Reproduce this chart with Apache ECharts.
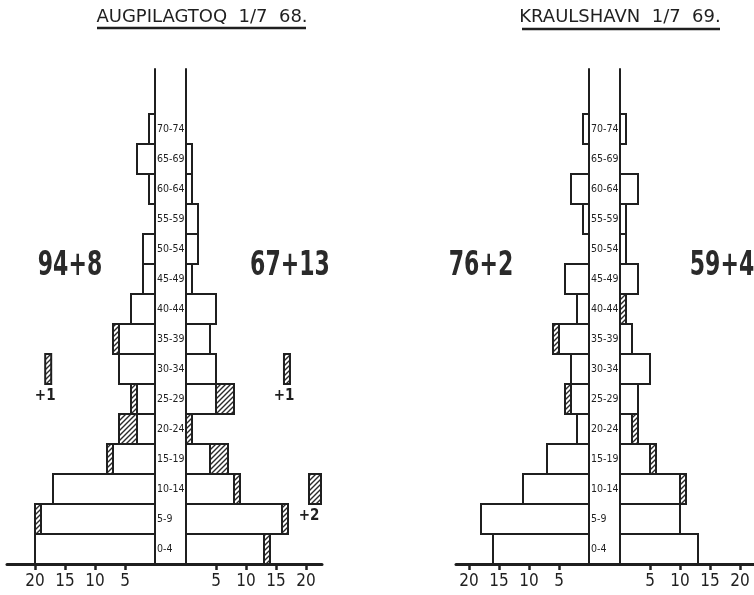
<!DOCTYPE html>
<html><head><meta charset="utf-8">
<script src="https://cdn.jsdelivr.net/npm/echarts@6/dist/echarts.min.js"></script>
<style>html,body{margin:0;padding:0;background:#fff}#c{width:754px;height:595px}</style>
</head><body><div id="c"></div><script>
// ---------- DATA ----------
const ages = ['0-4','5-9','10-14','15-19','20-24','25-29','30-34','35-39','40-44','45-49','50-54','55-59','60-64','65-69','70-74'];
const titleA = 'AUGPILAGTOQ  1/7  68.';
const titleB = 'KRAULSHAVN  1/7  69.';
// Augpilagtoq 1/7 68
const augLeftWhite  = [20,19,17,7,3,3,6,6,4,2,2,0,1,3,1];
const augLeftHatch  = [0,1,0,1,3,1,0,1,0,0,0,0,0,0,0];
const augRightWhite = [13,16,8,4,0,5,5,4,5,1,2,2,1,1,0];
const augRightHatch = [1,1,1,3,1,3,0,0,0,0,0,0,0,0,0];
const augLeftExtraAge = ['30-34'];
const augLeftExtraCount = [1];
const augRightExtraAge = ['30-34','10-14'];
const augRightExtraCount = [1,2];
// Kraulshavn 1/7 69
const kraLeftWhite  = [16,18,11,7,2,3,3,5,2,4,0,1,3,0,1];
const kraLeftHatch  = [0,0,0,0,0,1,0,1,0,0,0,0,0,0,0];
const kraRightWhite = [13,10,10,5,2,3,5,2,0,3,1,1,3,0,1];
const kraRightHatch = [0,0,1,1,1,0,0,0,1,0,0,0,0,0,0];
const xTicks = [5,10,15,20];

// ---------- LAYOUT ----------
const ink = '#1f1f1f';
const SCALE = 6;            // px per person
const TOP = 69, BOTTOM = 564;
const COL = 31;             // width of the age column
const YMAX = 16.5;          // bands incl. headroom above the oldest group
const augLeftExtraAt = [17.3];
const augRightExtraAt = [16.33, 20.5];
const narrow = "'DejaVu Sans Condensed','Liberation Sans Narrow',sans-serif";

function hatchCanvas() {
  const s = 5, c = document.createElement('canvas'); c.width = s; c.height = s;
  const g = c.getContext('2d');
  g.fillStyle = '#fff'; g.fillRect(0, 0, s, s);
  g.strokeStyle = '#2a2a2a'; g.lineWidth = 1.4; g.beginPath();
  g.moveTo(-1, s + 1); g.lineTo(s + 1, -1);
  g.moveTo(-1, 1); g.lineTo(1, -1);
  g.moveTo(s - 1, s + 1); g.lineTo(s + 1, s - 1);
  g.stroke();
  return c;
}
const hatch = { image: hatchCanvas(), repeat: 'repeat' };
const sum = a => a.reduce((p, v) => p + v, 0);

function stackItems(white, hat) {
  const out = [];
  white.forEach((w, i) => { out.push([i, 0, w, 0]); out.push([i, w, w + hat[i], 1]); });
  return out;
}
function extraItems(agesArr, counts, at) {
  return agesArr.map((a, k) => [ages.indexOf(a), at[k], at[k] + counts[k], 1]);
}
function rectOf(api) {
  const band = api.value(0), a = api.value(1), b = api.value(2);
  const p0 = api.coord([a, band]), p1 = api.coord([b, band + 1]);
  return { x: Math.min(p0[0], p1[0]), y: Math.min(p0[1], p1[1]),
           width: Math.abs(p1[0] - p0[0]), height: Math.abs(p1[1] - p0[1]) };
}
function renderBar(params, api) {
  if (api.value(2) - api.value(1) <= 0) return null;
  const r = rectOf(api);
  return { type: 'rect', shape: r,
    style: { fill: api.value(3) ? hatch : '#fff', stroke: ink, lineWidth: 2 } };
}
function renderExtra(params, api) {
  const r = rectOf(api);
  const n = api.value(2) - api.value(1);
  return { type: 'group', children: [
    { type: 'rect', shape: r, style: { fill: hatch, stroke: ink, lineWidth: 2 } },
    { type: 'text', x: r.x, y: r.y + r.height + 12,
      style: { text: '+' + Math.round(n), align: 'center', verticalAlign: 'middle',
               font: 'bold 15px ' + narrow, fill: ink } }
  ]};
}

const panels = [
  { l: 7, c: 155, r: 322 },
  { l: 456, c: 589, r: 754 }
];
const grids = [], xAxes = [], yAxes = [];
panels.forEach((p, k) => {
  grids.push({ left: p.l, top: TOP, width: p.c - p.l, height: BOTTOM - TOP, outerBoundsMode: 'none', containLabel: false });
  grids.push({ left: p.c, top: TOP, width: p.r - p.c, height: BOTTOM - TOP, outerBoundsMode: 'none', containLabel: false });
  const gl = 2 * k, gr = 2 * k + 1;
  const xCommon = {
    type: 'value', splitLine: { show: false },
    axisLine: { show: true, onZero: false, lineStyle: { color: ink, width: 3 } },
    axisTick: { show: true, customValues: xTicks, length: 6, lineStyle: { color: ink, width: 2.5 } },
    axisLabel: { show: true, customValues: xTicks, margin: 9, color: ink, fontSize: 17, fontFamily: narrow }
  };
  xAxes.push(Object.assign({}, xCommon, { gridIndex: gl, inverse: true, min: 0, max: (p.c - p.l) / SCALE }));
  xAxes.push(Object.assign({}, xCommon, { gridIndex: gr, min: -COL / SCALE, max: (p.r - p.c - COL) / SCALE }));
  yAxes.push({ type: 'value', gridIndex: gl, position: 'right', min: 0, max: YMAX, interval: 0.5,
    splitLine: { show: false }, axisTick: { show: false },
    axisLine: { show: true, onZero: false, lineStyle: { color: ink, width: 2 } },
    axisLabel: { show: true, margin: 2, align: 'left', color: ink, fontSize: 10.5, fontFamily: narrow,
      formatter: v => { const i = Math.round(v * 2); return (i % 2 === 1 && (i - 1) / 2 < ages.length) ? ages[(i - 1) / 2] : ''; } } });
  yAxes.push({ type: 'value', gridIndex: gr, position: 'left', min: 0, max: YMAX,
    splitLine: { show: false }, axisTick: { show: false }, axisLabel: { show: false },
    axisLine: { show: true, onZero: true, lineStyle: { color: ink, width: 2 } } });
});

function barSeries(axisIdx, data, render) {
  return { type: 'custom', xAxisIndex: axisIdx, yAxisIndex: axisIdx, renderItem: render || renderBar,
    data: data, encode: { x: [1, 2], y: 0 }, silent: true, animation: false };
}
const series = [
  barSeries(0, stackItems(augLeftWhite, augLeftHatch)),
  barSeries(1, stackItems(augRightWhite, augRightHatch)),
  barSeries(0, extraItems(augLeftExtraAge, augLeftExtraCount, augLeftExtraAt), renderExtra),
  barSeries(1, extraItems(augRightExtraAge, augRightExtraCount, augRightExtraAt), renderExtra),
  barSeries(2, stackItems(kraLeftWhite, kraLeftHatch)),
  barSeries(3, stackItems(kraRightWhite, kraRightHatch))
];

const totAL = sum(augLeftWhite) + '+' + (sum(augLeftHatch) + sum(augLeftExtraCount));
const totAR = sum(augRightWhite) + '+' + (sum(augRightHatch) + sum(augRightExtraCount));
const totBL = sum(kraLeftWhite) + '+' + sum(kraLeftHatch);
const totBR = sum(kraRightWhite) + '+' + sum(kraRightHatch);

function bigText(t, x) {
  return { type: 'text', x: x, y: 266, scaleX: 0.72, style: { text: t, align: 'center', verticalAlign: 'middle',
    font: 'bold 34px ' + narrow, fill: '#2a2a2a' } };
}
const graphic = [
  { type: 'text', x: 202, y: 17, style: { text: titleA, align: 'center', verticalAlign: 'middle', font: '18px "DejaVu Sans"', fill: ink } },
  { type: 'line', shape: { x1: 97, y1: 28, x2: 306, y2: 28 }, style: { stroke: ink, lineWidth: 2.5 } },
  { type: 'text', x: 620, y: 17, style: { text: titleB, align: 'center', verticalAlign: 'middle', font: '18px "DejaVu Sans"', fill: ink } },
  { type: 'line', shape: { x1: 522, y1: 29, x2: 720, y2: 29 }, style: { stroke: ink, lineWidth: 2.5 } },
  bigText(totAL, 70), bigText(totAR, 290), bigText(totBL, 481), bigText(totBR, 722)
];

const chart = echarts.init(document.getElementById('c'), null, { renderer: 'canvas' });
chart.setOption({ animation: false, backgroundColor: '#fff', grid: grids, xAxis: xAxes, yAxis: yAxes, series: series, graphic: graphic });
</script></body></html>
